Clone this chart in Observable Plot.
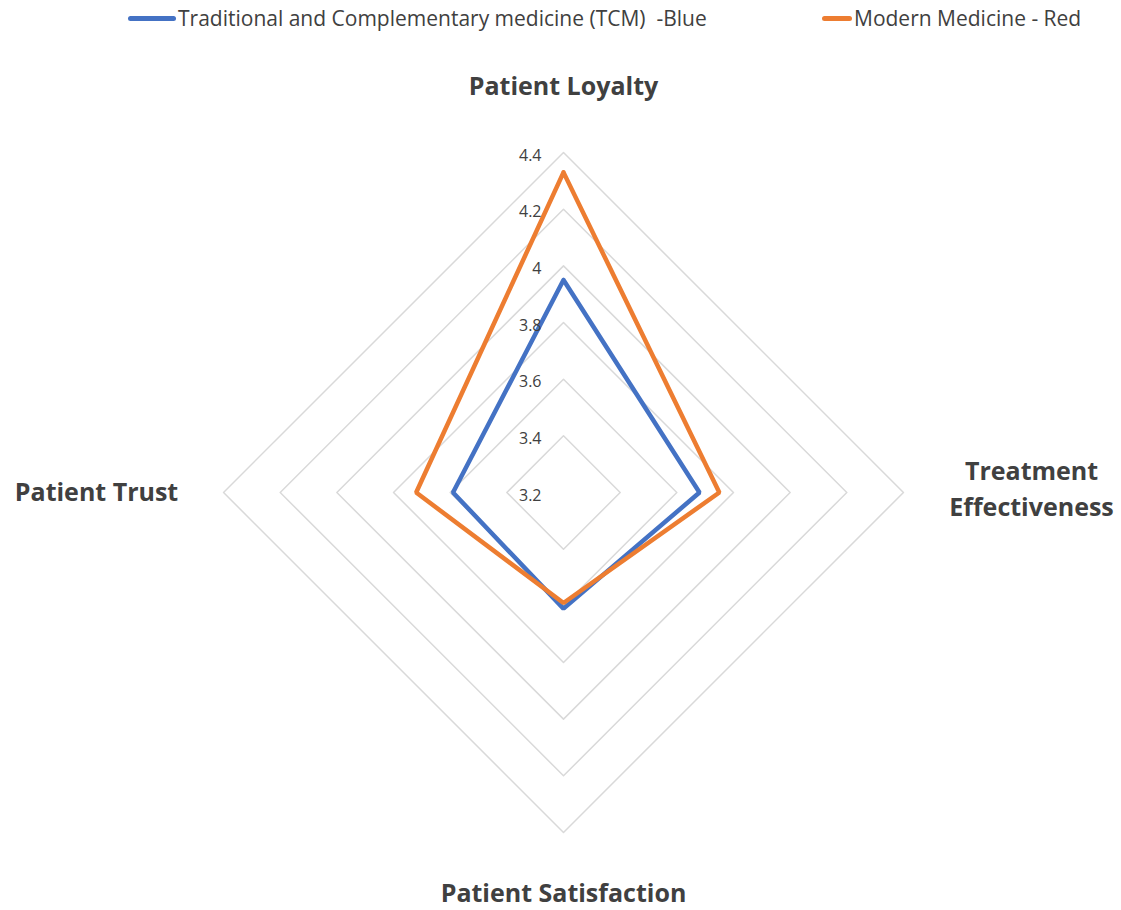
<!DOCTYPE html>
<html>
<head>
<meta charset="utf-8">
<script src="https://cdn.jsdelivr.net/npm/d3@7"></script>
<script src="https://cdn.jsdelivr.net/npm/@observablehq/plot@0.6"></script>
<style>
  html, body { margin: 0; padding: 0; background: #fff; }
  #legend { position: relative; height: 35px; width: 1121px; font-family: "Liberation Sans Narrow", "Open Sans", sans-serif; font-size: 21px; color: #404040; }
  .item { position: absolute; top: 4px; display: flex; align-items: center; white-space: pre; }
  .swatch { display: inline-block; width: 48px; height: 5px; border-radius: 3px; margin-right: 2px; }
</style>
</head>
<body>
<div id="legend"></div>
<div id="chart"></div>
<script>
// ---- data ----
const axes = ["Patient Loyalty", "Treatment Effectiveness", "Patient Satisfaction", "Patient Trust"];
const seriesNames = ["Traditional and Complementary medicine (TCM)  -Blue", "Modern Medicine - Red"];
const tcmValues = [3.95, 3.68, 3.61, 3.59];
const modernValues = [4.33, 3.75, 3.59, 3.72];
const tickValues = [3.2, 3.4, 3.6, 3.8, 4.0, 4.2, 4.4];
const colors = ["#4472C4", "#ED7D31"];

// ---- geometry ----
const rMin = 3.2;
const W = 1121, H = 875;
const pxPerUnit = 283.3;
const cx = 563, cy = 457;
const angle = i => (i * 2 * Math.PI) / axes.length; // 0 = up, clockwise
const toXY = (i, v) => ({ x: (v - rMin) * Math.sin(angle(i)), y: (v - rMin) * Math.cos(angle(i)) });

// legend
const legend = document.getElementById("legend");
const legendX = [128, 822];
seriesNames.forEach((name, k) => {
  const d = document.createElement("div");
  d.className = "item";
  d.style.left = legendX[k] + "px";
  d.innerHTML = `<span class="swatch" style="background:${colors[k]};width:${k ? 30 : 48}px"></span><span>${name}</span>`;
  legend.appendChild(d);
});

// grid rings
const ringRows = [];
tickValues.filter(t => t > rMin).forEach(t => {
  for (let i = 0; i <= axes.length; i++) ringRows.push({ level: t, ...toXY(i % axes.length, t) });
});

// series
const seriesRows = [];
[tcmValues, modernValues].forEach((vals, k) => {
  for (let i = 0; i <= vals.length; i++) {
    const j = i % vals.length;
    seriesRows.push({ series: seriesNames[k], ...toXY(j, vals[j]) });
  }
});

// tick labels along the top axis
const tickRows = tickValues.map(t => ({ label: d3.format("~g")(t), ...toXY(0, t) }));

// axis labels
const labelOffset = [1.445, 1.652, 1.405, 1.36];
const labelDy = [0, -6, 0, 0];
const labelAnchor = ["middle", "middle", "middle", "end"];
const labelRows = axes.map((a, i) => ({
  label: i === 1 ? "Treatment\nEffectiveness" : a,
  anchor: labelAnchor[i],
  dy: labelDy[i],
  ...toXY(i, rMin + labelOffset[i])
}));
labelRows.forEach(d => { d.y -= d.dy / pxPerUnit; });

const chart = Plot.plot({
  width: W,
  height: H,
  margin: 0,
  x: { domain: [-cx / pxPerUnit, (W - cx) / pxPerUnit], axis: null },
  y: { domain: [-(H - cy) / pxPerUnit, cy / pxPerUnit], axis: null },
  style: { background: "#fff" },
  marks: [
    Plot.line(ringRows, { x: "x", y: "y", z: "level", stroke: "#D9D9D9", strokeWidth: 1.5, curve: "linear-closed" }),
    Plot.line(seriesRows, { x: "x", y: "y", z: "series", stroke: d => d.series, strokeWidth: 4.5, strokeLinejoin: "miter", curve: "linear" }),
    Plot.text(tickRows, { x: "x", y: "y", text: "label", textAnchor: "end", dx: -22, dy: 3, fontSize: 16, fill: "#404040", fontFamily: "Open Sans, sans-serif" }),
    Plot.text(labelRows.filter(d => d.anchor === "middle"), { x: "x", y: "y", text: "label", textAnchor: "middle", lineHeight: 1.45, fontSize: 25, fontWeight: "bold", fill: "#404040", fontFamily: "Open Sans, sans-serif" }),
    Plot.text(labelRows.filter(d => d.anchor === "end"), { x: "x", y: "y", text: "label", textAnchor: "end", fontSize: 25, fontWeight: "bold", fill: "#404040", fontFamily: "Open Sans, sans-serif" })
  ],
  color: { domain: seriesNames, range: colors }
});
document.getElementById("chart").appendChild(chart);
</script>
</body>
</html>
